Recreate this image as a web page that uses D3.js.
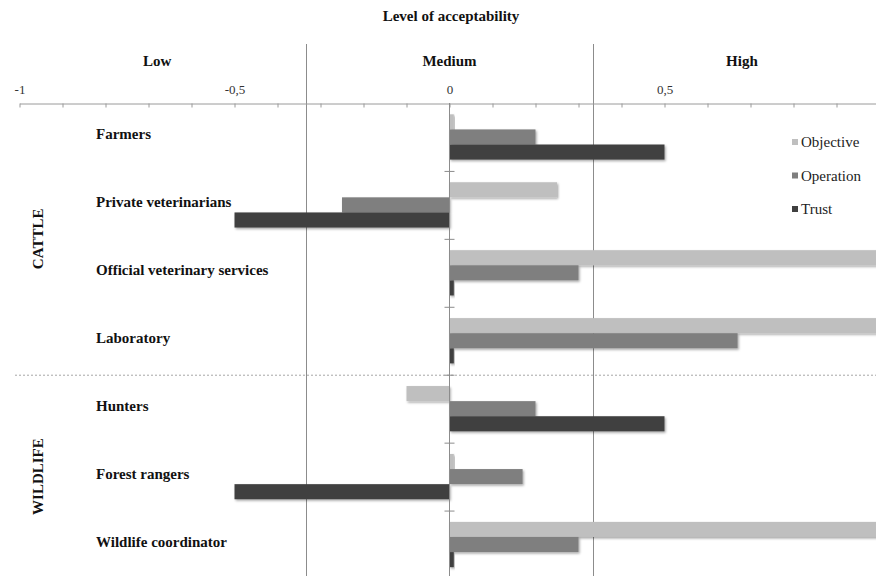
<!DOCTYPE html>
<html>
<head>
<meta charset="utf-8">
<script src="https://cdn.jsdelivr.net/npm/d3@7"></script>
<style>
  body { margin: 0; background: #fff; }
  text { font-family: "Liberation Serif", "DejaVu Serif", serif; }
</style>
</head>
<body>
<svg id="chart" width="876" height="576"></svg>
<script>
// categories, top to bottom
const categories = [
  "Farmers",
  "Private veterinarians",
  "Official veterinary services",
  "Laboratory",
  "Hunters",
  "Forest rangers",
  "Wildlife coordinator"
];
const groupNames = ["CATTLE", "WILDLIFE"];
const groupSizes = [4, 3];

const seriesNames = ["Objective", "Operation", "Trust"];
const objective = [0.01, 0.25, 1, 1, -0.1, 0.01, 1];
const operation = [0.2, -0.25, 0.3, 0.67, 0.2, 0.17, 0.3];
const trust = [0.5, -0.5, 0.01, 0.01, 0.5, -0.5, 0.01];

const tickLabels = [-1, -0.5, 0, 0.5];
const levelNames = ["Low", "Medium", "High"];
const levelCenters = [-0.68, 0, 0.68];
const levelBounds = [-1 / 3, 1 / 3];

const colors = ["#bfbfbf", "#7f7f7f", "#404040"];
const FONT = "'Liberation Serif', 'DejaVu Serif', serif";

const svg = d3.select("#chart");
const W = 876, H = 576;
const axisY = 103;

const x = d3.scaleLinear().domain([-1, 1]).range([19.5, 879.5]);
const y = d3.scaleBand().domain(categories).range([axisY, 578.5]).paddingInner(0);
const ySub = d3.scaleBand().domain(seriesNames).range([0, y.bandwidth()]).paddingOuter(0.75).paddingInner(0);
const color = d3.scaleOrdinal().domain(seriesNames).range(colors);

const rows = categories.map((c, i) => ({
  cat: c,
  values: [objective[i], operation[i], trust[i]].map((v, j) => ({ key: seriesNames[j], value: v }))
}));

// drop shadow
const defs = svg.append("defs");
defs.append("filter")
  .attr("id", "shadow")
  .attr("x", "-5%").attr("y", "-20%").attr("width", "115%").attr("height", "160%")
  .append("feDropShadow")
  .attr("dx", 1.2).attr("dy", 1.5)
  .attr("stdDeviation", 0.9)
  .attr("flood-color", "#000")
  .attr("flood-opacity", 0.35);

// title
svg.append("text")
  .attr("x", 451).attr("y", 21)
  .attr("text-anchor", "middle")
  .attr("font-family", FONT)
  .attr("font-weight", "bold").attr("font-size", 15)
  .attr("fill", "#111")
  .text("Level of acceptability");

// Low / Medium / High
svg.append("g").selectAll("text")
  .data(levelNames)
  .join("text")
  .attr("x", (d, i) => x(levelCenters[i]))
  .attr("y", 66)
  .attr("text-anchor", "middle")
  .attr("font-family", FONT)
  .attr("font-weight", "bold").attr("font-size", 15)
  .attr("fill", "#111")
  .text(d => d);

// level boundaries
svg.append("g").selectAll("line")
  .data(levelBounds)
  .join("line")
  .attr("x1", d => Math.round(x(d)) + 0.5).attr("x2", d => Math.round(x(d)) + 0.5)
  .attr("y1", 44).attr("y2", H)
  .attr("stroke", "#8c8c8c").attr("stroke-width", 1);

// X-Axis (ticks every 0.1, labels at 0.5)
const xAxis = d3.axisTop(x)
  .tickValues(d3.range(-10, 11).map(d => d / 10))
  .tickSizeInner(-4)
  .tickSizeOuter(0)
  .tickPadding(10)
  .tickFormat(d => tickLabels.some(t => Math.abs(t - d) < 1e-6) ? String(+d.toFixed(1)).replace(".", ",") : "");

const gx = svg.append("g")
  .attr("transform", `translate(0,${axisY + 0.5})`)
  .call(xAxis)
  .attr("font-family", FONT)
  .attr("font-size", 13);
gx.select(".domain").attr("stroke", "#9a9a9a");
gx.selectAll(".tick line").attr("stroke", "#9a9a9a");
gx.selectAll(".tick text").attr("fill", "#333");

// group divider
svg.append("line")
  .attr("x1", 15).attr("x2", W)
  .attr("y1", y(categories[groupSizes[0]]) + 0.5)
  .attr("y2", y(categories[groupSizes[0]]) + 0.5)
  .attr("stroke", "#a6a6a6")
  .attr("stroke-dasharray", "2,2");

// bars
const rowG = svg.append("g").selectAll("g")
  .data(rows)
  .join("g")
  .attr("transform", d => `translate(0,${y(d.cat)})`);

rowG.selectAll("rect")
  .data(d => d.values)
  .join("rect")
  .attr("x", d => x(Math.min(0, d.value)))
  .attr("y", d => ySub(d.key))
  .attr("width", d => Math.abs(x(d.value) - x(0)))
  .attr("height", ySub.bandwidth())
  .attr("fill", d => color(d.key))
  .attr("filter", "url(#shadow)");

// Y-axis line at zero with category ticks
const gy = svg.append("g")
  .attr("transform", `translate(${Math.round(x(0)) - 0.5},0)`);
gy.append("line")
  .attr("y1", axisY).attr("y2", H)
  .attr("stroke", "#8c8c8c");
gy.selectAll(".cat-tick")
  .data(categories.slice(1))
  .join("line")
  .attr("class", "cat-tick")
  .attr("x1", -5).attr("x2", 5)
  .attr("y1", d => y(d) + 0.5).attr("y2", d => y(d) + 0.5)
  .attr("stroke", "#8c8c8c");

// category labels
svg.append("g").selectAll("text")
  .data(categories)
  .join("text")
  .attr("x", 96)
  .attr("y", d => y(d) + y.bandwidth() / 2 + 2)
  .attr("font-family", FONT)
  .attr("font-weight", "bold").attr("font-size", 15)
  .attr("fill", "#111")
  .text(d => d);

// group labels
let start = 0;
groupNames.forEach((name, i) => {
  const top = y(categories[start]);
  const bottom = y(categories[start + groupSizes[i] - 1]) + y.bandwidth();
  svg.append("text")
    .attr("transform", `translate(43,${(top + bottom) / 2}) rotate(-90)`)
    .attr("text-anchor", "middle")
    .attr("font-family", FONT)
    .attr("font-weight", "bold").attr("font-size", 15)
    .attr("fill", "#111")
    .text(name);
  start += groupSizes[i];
});

// Legend
const legend = svg.append("g")
  .selectAll("g")
  .data(seriesNames)
  .join("g")
  .attr("transform", (d, i) => `translate(792,${142 + i * 33.5})`);
legend.append("rect")
  .attr("x", 0).attr("y", -3)
  .attr("width", 6).attr("height", 6)
  .attr("fill", d => color(d));
legend.append("text")
  .attr("x", 9).attr("y", 5)
  .attr("font-family", FONT)
  .attr("font-size", 15)
  .attr("fill", "#222")
  .text(d => d);
</script>
</body>
</html>
